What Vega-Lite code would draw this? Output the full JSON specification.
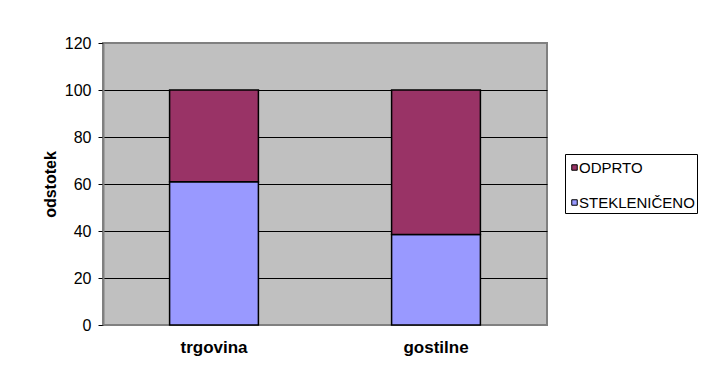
{
  "$schema": "https://vega.github.io/schema/vega-lite/v6.json",
  "width": 444,
  "height": 282,
  "autosize": {"type": "none"},
  "padding": {"left": 103, "top": 43, "right": 155, "bottom": 61},
  "background": "white",
  "config": {
    "view": {"fill": "#C0C0C0", "stroke": "#808080", "strokeWidth": 2},
    "font": "Liberation Sans"
  },
  "data": {
    "values": [
      {"place": "trgovina", "type": "STEKLENIČENO", "value": 61},
      {"place": "trgovina", "type": "ODPRTO", "value": 39},
      {"place": "gostilne", "type": "STEKLENIČENO", "value": 38.5},
      {"place": "gostilne", "type": "ODPRTO", "value": 61.5}
    ]
  },
  "mark": {"type": "bar", "stroke": "black", "strokeWidth": 1.5},
  "encoding": {
    "x": {
      "field": "place",
      "type": "nominal",
      "sort": null,
      "scale": {"paddingInner": 0.6, "paddingOuter": 0.3},
      "axis": {
        "title": null,
        "labelAngle": 0,
        "labelFontSize": 17,
        "labelFontWeight": "bold",
        "labelColor": "black",
        "ticks": false,
        "domain": false,
        "labelPadding": 14
      }
    },
    "y": {
      "field": "value",
      "type": "quantitative",
      "stack": "zero",
      "scale": {"domain": [0, 120], "nice": false},
      "axis": {
        "values": [0, 20, 40, 60, 80, 100, 120],
        "title": "odstotek",
        "titleFontSize": 16,
        "titleFontWeight": "bold",
        "titleColor": "black",
        "titlePadding": 6,
        "labelFontSize": 16,
        "labelColor": "black",
        "labelPadding": 7,
        "tickColor": "black",
        "tickSize": 5,
        "domainColor": "#808080",
        "domainWidth": 2,
        "gridOpacity": 1,
        "gridColor": {
          "condition": {"test": "datum.value === 0 || datum.value === 120", "value": "#808080"},
          "value": "black"
        }
      }
    },
    "color": {
      "field": "type",
      "type": "nominal",
      "scale": {"domain": ["ODPRTO", "STEKLENIČENO"], "range": ["#993366", "#9999FF"]},
      "legend": {
        "title": " ",
        "titleFontSize": 1,
        "titlePadding": 3,
        "orient": "none",
        "legendX": 462,
        "legendY": 111,
        "padding": 2,
        "strokeColor": "black",
        "fillColor": "white",
        "labelFontSize": 15,
        "labelColor": "black",
        "symbolType": "square",
        "symbolSize": 30,
        "symbolStrokeColor": "black",
        "symbolStrokeWidth": 1,
        "rowPadding": 19,
        "symbolOffset": 0,
        "labelOffset": -3
      }
    },
    "order": {"field": "type", "sort": "descending"}
  }
}
